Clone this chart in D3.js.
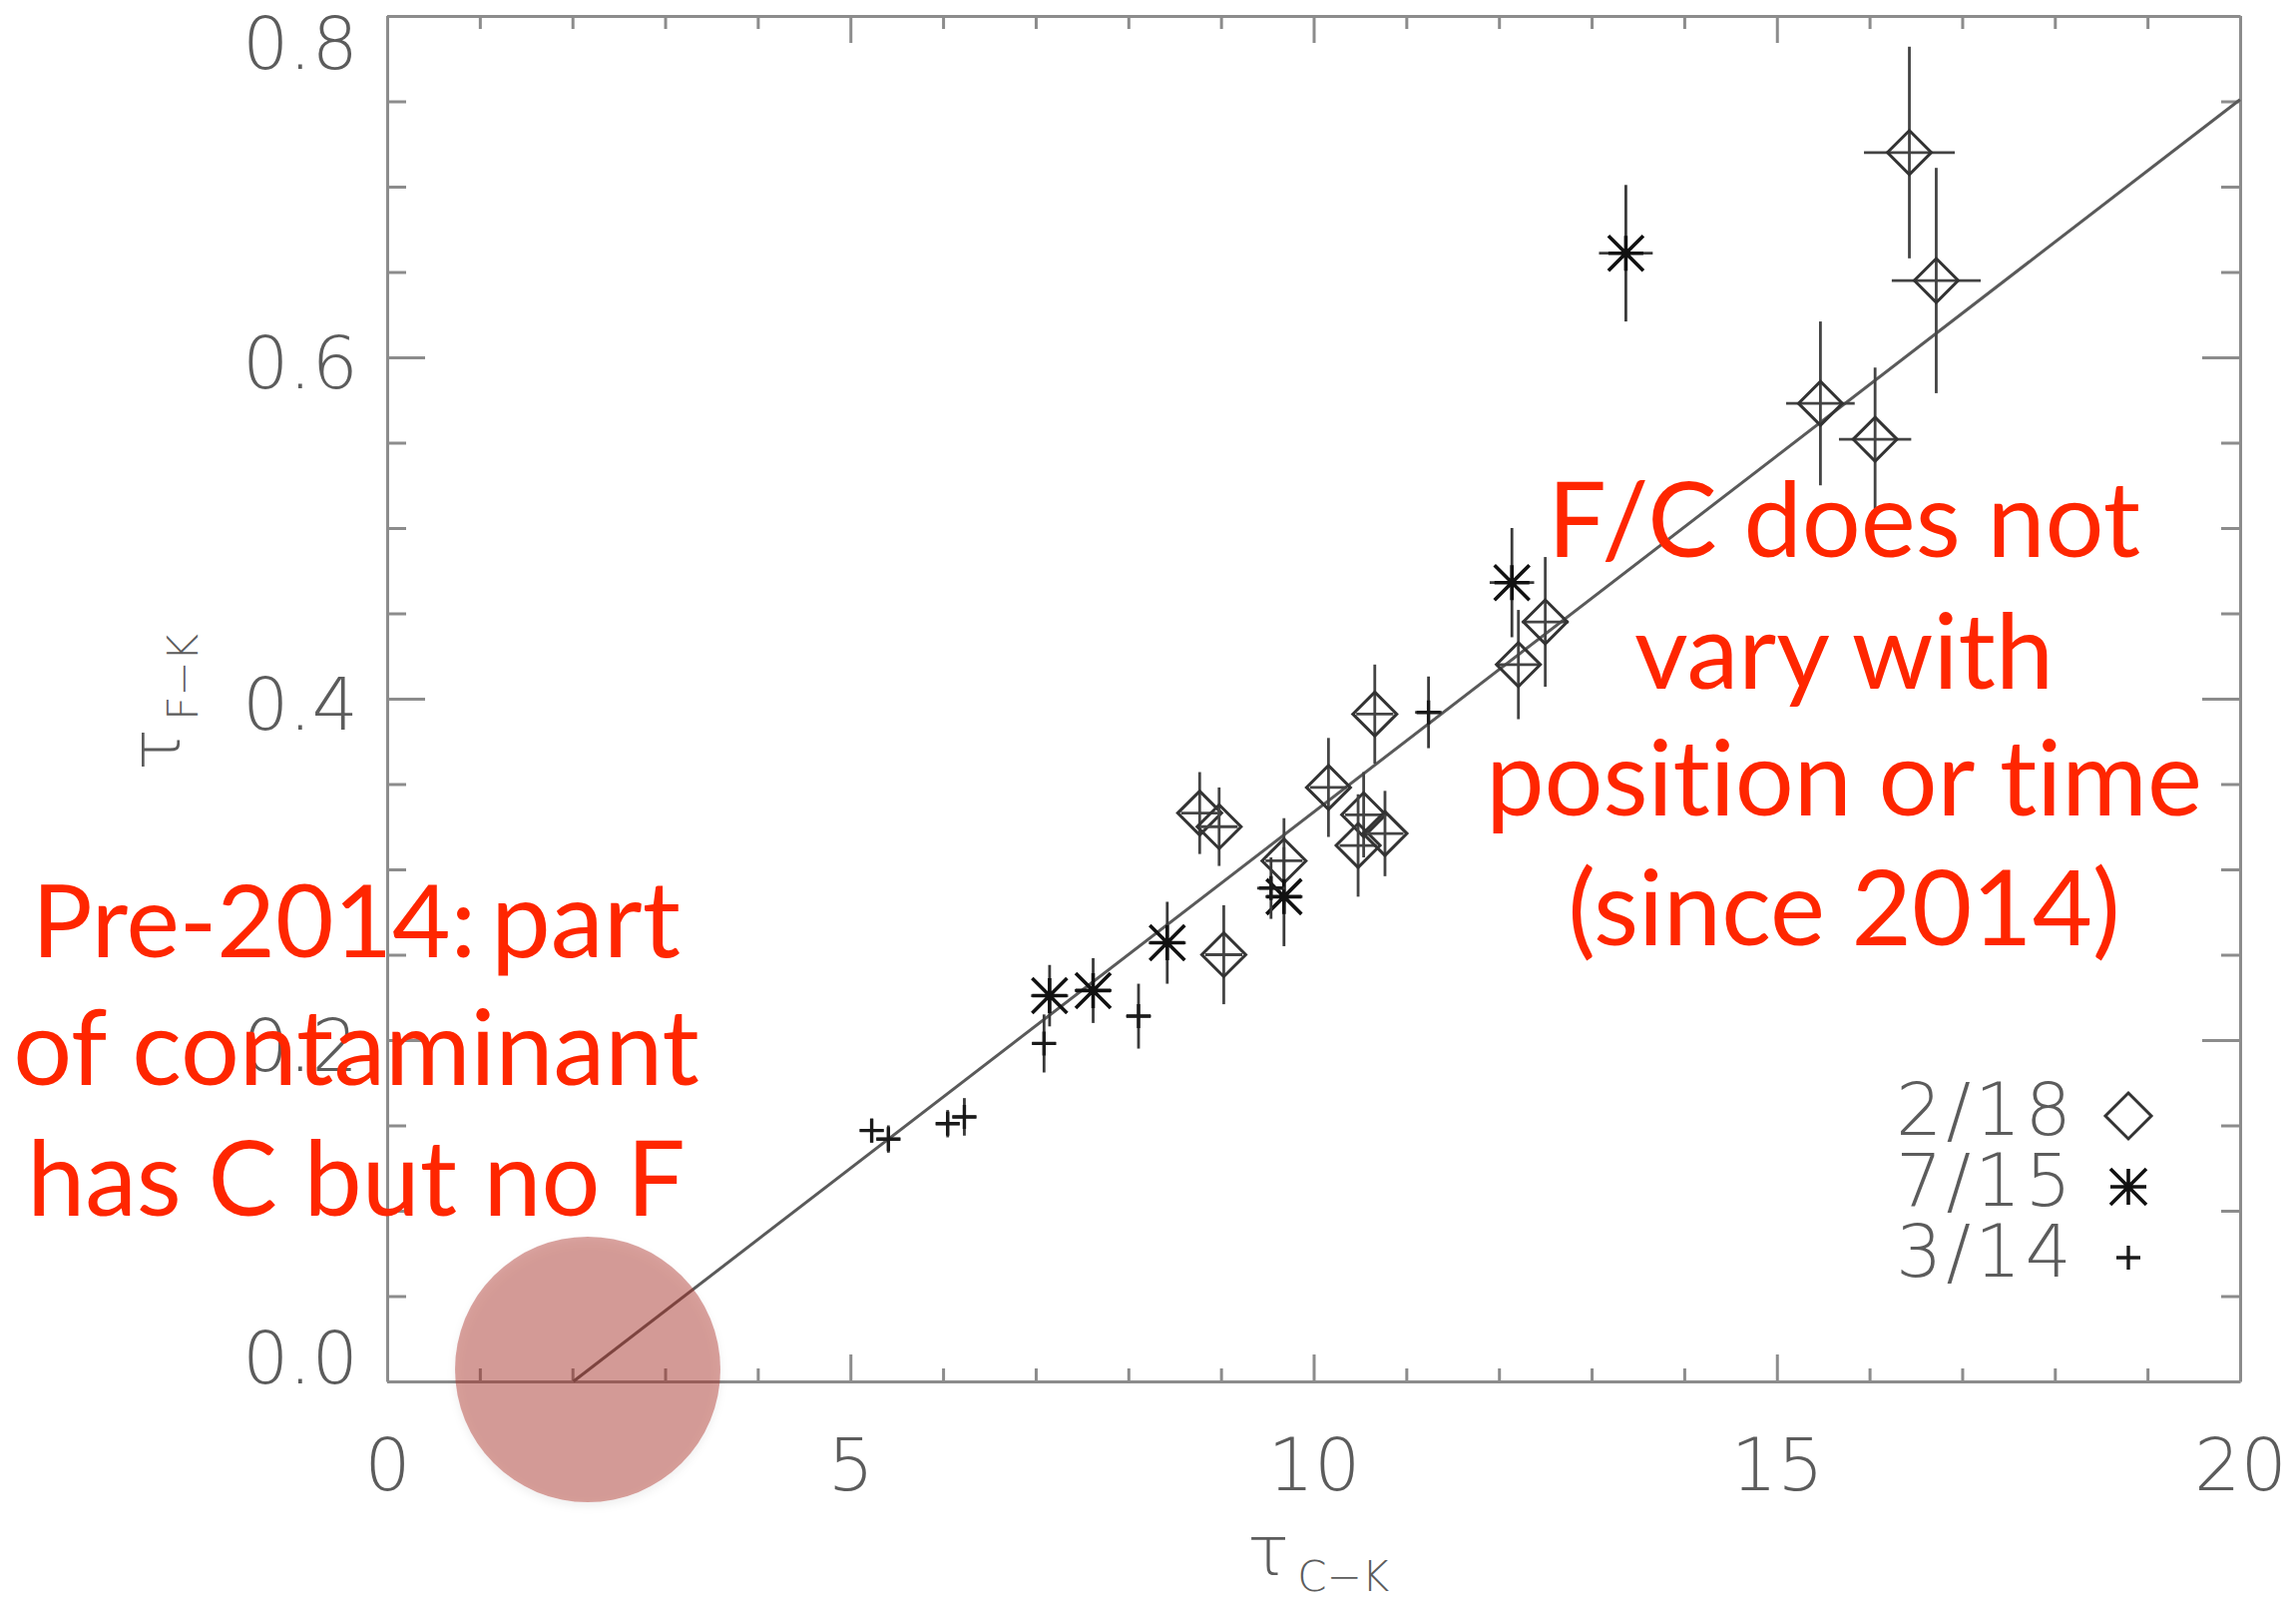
<!DOCTYPE html>
<html>
<head>
<meta charset="utf-8">
<script src="https://cdn.jsdelivr.net/npm/d3@7"></script>
<style>
  html, body { margin: 0; padding: 0; background: #fff; }
  svg { display: block; }
</style>
</head>
<body>
<script>
// Optical depth of the F-K pair against the C-K pair, three epochs.
// Each row: [tauCK, tauFK, errCK, errFK]
const feb18 = [
  [16.43, 0.720, 0.49, 0.062],
  [16.72, 0.645, 0.48, 0.066],
  [15.47, 0.573, 0.37, 0.048],
  [16.06, 0.552, 0.39, 0.042],
  [12.50, 0.445, 0.25, 0.038],
  [12.21, 0.420, 0.24, 0.032],
  [10.66, 0.391, 0.20, 0.029],
  [10.16, 0.348, 0.20, 0.029],
  [ 8.77, 0.333, 0.20, 0.024],
  [ 8.98, 0.325, 0.20, 0.023],
  [10.54, 0.332, 0.20, 0.025],
  [10.48, 0.314, 0.20, 0.030],
  [10.77, 0.321, 0.20, 0.025],
  [ 9.68, 0.305, 0.20, 0.025],
  [ 9.03, 0.250, 0.20, 0.029]
];
const jul15 = [
  [13.37, 0.661, 0.29, 0.040],
  [12.14, 0.468, 0.24, 0.032],
  [ 9.68, 0.284, 0.20, 0.029],
  [ 8.42, 0.257, 0.20, 0.024],
  [ 7.62, 0.229, 0.20, 0.019],
  [ 7.15, 0.226, 0.20, 0.018]
];
const mar14 = [
  [11.24, 0.392, 0.145, 0.021],
  [ 9.54, 0.289, 0.150, 0.018],
  [ 8.11, 0.214, 0.135, 0.019],
  [ 7.09, 0.198, 0.130, 0.017],
  [ 5.23, 0.147, 0.130, 0.007],
  [ 5.41, 0.142, 0.130, 0.008],
  [ 6.05, 0.151, 0.130, 0.008],
  [ 6.23, 0.155, 0.130, 0.011]
];
// Linear fit: F/C constant, offset in tauCK
const fitLine = [[2.01, 0.0], [20.0, 0.751]];

const xTicks = [0, 5, 10, 15, 20];
const yTicks = [0.0, 0.2, 0.4, 0.6, 0.8];
const xMinorTicks = [1,2,3,4,6,7,8,9,11,12,13,14,16,17,18,19];
const yMinorTicks = [0.05,0.1,0.15,0.25,0.3,0.35,0.45,0.5,0.55,0.65,0.7,0.75];
const legendLabels = ["2/18", "7/15", "3/14"];
const noteRight = ["F/C does not", "vary with", "position or time", "(since 2014)"];
const noteLeft = ["of contaminant", "has C but no F"];
const noteLeftHead = ["Pre-2014:", "part"];

const W = 2301, H = 1606;
const svg = d3.select("body").append("svg")
  .attr("width", W).attr("height", H)
  .style("background", "#fff");

const x = d3.scaleLinear().domain([0, 20]).range([388, 2245]);
const y = d3.scaleLinear().domain([0, 0.8]).range([1384, 16]);

const axisColor = "#8c8c8c";
const labelColor = "#5c5c5c";
const tickFont = "'DejaVu Sans', 'Liberation Sans', sans-serif";

const defs = svg.append("defs");
const shadow = defs.append("filter").attr("id", "soft-shadow")
  .attr("x", "-20%").attr("y", "-20%").attr("width", "140%").attr("height", "140%");
shadow.append("feDropShadow").attr("dx", 0).attr("dy", 4)
  .attr("stdDeviation", 4).attr("flood-color", "#000").attr("flood-opacity", 0.15);

function styleAxis(g, keepDomain) {
  g.attr("font-size", null).attr("font-family", null);
  if (keepDomain) {
    g.select(".domain").attr("stroke", axisColor).attr("stroke-width", 3);
  } else {
    g.select(".domain").remove();
  }
  g.selectAll(".tick line").attr("stroke", axisColor).attr("stroke-width", 3);
}

const plot = svg.append("g");

// Bottom axis
plot.append("g").attr("transform", `translate(0,${y(0)})`)
  .call(d3.axisBottom(x).tickValues(xMinorTicks).tickSize(-13).tickFormat(""))
  .call(g => styleAxis(g, false));
const xAxisG = plot.append("g").attr("transform", `translate(0,${y(0)})`)
  .call(d3.axisBottom(x).tickValues(xTicks).tickSizeInner(-27).tickSizeOuter(0)
    .tickPadding(0).tickFormat(d3.format("d")))
  .call(g => styleAxis(g, true));
xAxisG.selectAll(".tick text")
  .attr("y", 109).attr("dy", 0)
  .attr("fill", labelColor).attr("font-size", 73).attr("font-weight", 200)
  .attr("font-family", tickFont);

// Top axis
plot.append("g").attr("transform", `translate(0,${y(0.8)})`)
  .call(d3.axisTop(x).tickValues(xMinorTicks).tickSize(-13).tickFormat(""))
  .call(g => styleAxis(g, false));
plot.append("g").attr("transform", `translate(0,${y(0.8)})`)
  .call(d3.axisTop(x).tickValues(xTicks).tickSizeInner(-27).tickSizeOuter(0).tickFormat(""))
  .call(g => styleAxis(g, true));

// Left axis
plot.append("g").attr("transform", `translate(${x(0)},0)`)
  .call(d3.axisLeft(y).tickValues(yMinorTicks).tickSize(-19).tickFormat(""))
  .call(g => styleAxis(g, false));
const yAxisG = plot.append("g").attr("transform", `translate(${x(0)},0)`)
  .call(d3.axisLeft(y).tickValues(yTicks).tickSizeInner(-38).tickSizeOuter(0)
    .tickPadding(29).tickFormat(d3.format(".1f")))
  .call(g => styleAxis(g, true));
yAxisG.selectAll(".tick text")
  .attr("dy", 0)
  .attr("y", d => d === 0 ? 1 : (d === 0.8 ? 52 : 30))
  .attr("fill", labelColor).attr("font-size", 73).attr("font-weight", 200)
  .attr("font-family", tickFont);

// Right axis
plot.append("g").attr("transform", `translate(${x(20)},0)`)
  .call(d3.axisRight(y).tickValues(yMinorTicks).tickSize(-19).tickFormat(""))
  .call(g => styleAxis(g, false));
plot.append("g").attr("transform", `translate(${x(20)},0)`)
  .call(d3.axisRight(y).tickValues(yTicks).tickSizeInner(-38).tickSizeOuter(0).tickFormat(""))
  .call(g => styleAxis(g, true));

// Axis titles
const xTitle = plot.append("text")
  .attr("x", 1250).attr("y", 1578)
  .attr("fill", labelColor).attr("font-family", tickFont).attr("font-weight", 200)
  .attr("font-size", 70);
xTitle.append("tspan").text("τ");
xTitle.append("tspan").attr("font-size", 42).attr("dx", 8).attr("dy", 16).text("C−K");

const yTitle = plot.append("text")
  .attr("transform", "translate(180,772) rotate(-90)")
  .attr("fill", labelColor).attr("font-family", tickFont).attr("font-weight", 200)
  .attr("font-size", 70);
yTitle.append("tspan").text("τ");
yTitle.append("tspan").attr("font-size", 42).attr("dx", 8).attr("dy", 18).text("F−K");

// Fit line
plot.append("path")
  .datum(fitLine)
  .attr("d", d3.line().x(d => x(d[0])).y(d => y(d[1])))
  .attr("fill", "none").attr("stroke", "#5a5a5a").attr("stroke-width", 3);

// Plot symbols (IDL-style psym shapes)
const diamondOpen = {
  draw(ctx, size) {
    const r = Math.sqrt(size);
    ctx.moveTo(0, -r); ctx.lineTo(r, 0); ctx.lineTo(0, r); ctx.lineTo(-r, 0); ctx.closePath();
  }
};
const asterisk = {
  draw(ctx, size) {
    const r = Math.sqrt(size);
    ctx.moveTo(-r, 0); ctx.lineTo(r, 0);
    ctx.moveTo(0, -r); ctx.lineTo(0, r);
    ctx.moveTo(-r, -r); ctx.lineTo(r, r);
    ctx.moveTo(-r, r); ctx.lineTo(r, -r);
  }
};
const plusSign = {
  draw(ctx, size) {
    const r = Math.sqrt(size);
    ctx.moveTo(-r, 0); ctx.lineTo(r, 0);
    ctx.moveTo(0, -r); ctx.lineTo(0, r);
  }
};

const series = [
  { rows: feb18, type: diamondOpen, size: 22 * 22, stroke: "#333", width: 3, errColor: "#444" },
  { rows: jul15, type: asterisk, size: 17.5 * 17.5, stroke: "#111", width: 3.6, errColor: "#3a3a3a" },
  { rows: mar14, type: plusSign, size: 12 * 12, stroke: "#1a1a1a", width: 3.4, errColor: "#3a3a3a" }
];

series.forEach(s => {
  const g = plot.append("g");
  const pts = g.selectAll("g.pt").data(s.rows).join("g").attr("class", "pt");
  pts.append("line")
    .attr("x1", d => x(d[0])).attr("x2", d => x(d[0]))
    .attr("y1", d => y(d[1] - d[3])).attr("y2", d => y(d[1] + d[3]))
    .attr("stroke", s.errColor).attr("stroke-width", 2.8);
  pts.append("line")
    .attr("x1", d => x(d[0] - d[2])).attr("x2", d => x(d[0] + d[2]))
    .attr("y1", d => y(d[1])).attr("y2", d => y(d[1]))
    .attr("stroke", s.errColor).attr("stroke-width", 2.8);
  pts.append("path")
    .attr("transform", d => `translate(${x(d[0])},${y(d[1])})`)
    .attr("d", d3.symbol().type(s.type).size(s.size)())
    .attr("fill", "none").attr("stroke", s.stroke).attr("stroke-width", s.width);
});

// Legend
const legend = plot.append("g");
const legendSymbols = [
  { type: diamondOpen, size: 23 * 23, stroke: "#333", width: 3 },
  { type: asterisk, size: 18 * 18, stroke: "#111", width: 3.6 },
  { type: plusSign, size: 12 * 12, stroke: "#1a1a1a", width: 3.4 }
];
legendLabels.forEach((lab, i) => {
  const cy = 1118 + i * 71;
  legend.append("text")
    .attr("x", 2080).attr("y", cy + 19)
    .attr("text-anchor", "end")
    .attr("fill", labelColor).attr("font-family", tickFont).attr("font-weight", 200)
    .attr("font-size", 73).attr("letter-spacing", 4)
    .text(lab);
  legend.append("path")
    .attr("transform", `translate(2133,${cy})`)
    .attr("d", d3.symbol().type(legendSymbols[i].type).size(legendSymbols[i].size)())
    .attr("fill", "none").attr("stroke", legendSymbols[i].stroke)
    .attr("stroke-width", legendSymbols[i].width);
});

// Highlight at the zero crossing of the fit
svg.append("circle")
  .attr("cx", 589).attr("cy", 1372).attr("r", 133)
  .attr("fill", "rgba(170,45,40,0.44)")
  .attr("filter", "url(#soft-shadow)");

// Annotations
const noteFont = "Lato, 'Open Sans', sans-serif";
const noteColor = "rgb(255,38,0)";
const notes = svg.append("g").attr("fill", noteColor).attr("font-family", noteFont)
  .style("font-variant-ligatures", "none").style("font-feature-settings", "'liga' 0");

function measure(str, size) {
  const t = notes.append("text").attr("font-size", size).text(str);
  const w = t.node().getComputedTextLength();
  t.remove();
  return w;
}

// Right block
const rightWidths = [592, 418, 731, 548];
const rightBase = [558, 690, 817, 947];
const rightSize = d3.mean(noteRight, (s, i) => 100 * rightWidths[i] / measure(s, 100));
noteRight.forEach((s, i) => {
  notes.append("text").attr("x", 1848).attr("y", rightBase[i])
    .attr("text-anchor", "middle").attr("font-size", rightSize).text(s);
});

// Left block
const leftWidths = [679, 668];
const leftBase = [1087, 1218];
const leftSize = d3.mean(noteLeft, (s, i) => 100 * leftWidths[i] / measure(s, 100));
noteLeft.forEach((s, i) => {
  notes.append("text").attr("x", 357).attr("y", leftBase[i])
    .attr("text-anchor", "middle").attr("font-size", leftSize).text(s);
});
const headSize = 100 * 445 / measure(noteLeftHead[0], 100);
const partSize = 100 * 190 / measure(noteLeftHead[1], 100);
notes.append("text").attr("x", 32).attr("y", 959).attr("font-size", headSize).text(noteLeftHead[0]);
notes.append("text").attr("x", 492).attr("y", 959).attr("font-size", partSize).text(noteLeftHead[1]);
</script>
</body>
</html>
